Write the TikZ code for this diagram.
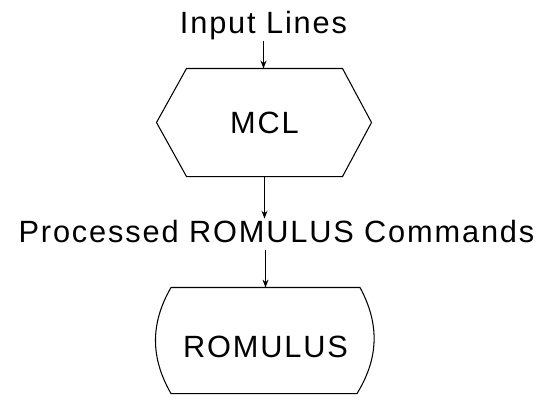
\documentclass[tikz,border=0pt]{standalone}
\usepackage{fontspec}
\setmainfont{Liberation Sans}[LetterSpace=6]
\usetikzlibrary{arrows.meta,calc}
\begin{document}
\begin{tikzpicture}[x=0.02cm, y=-0.02cm, >={Stealth[length=4.5pt,width=3.4pt]}, line width=0.6pt,
  lbl/.style={font=\fontsize{17.5}{20}\selectfont, inner sep=2pt, text height=1.1em, text depth=0.25em, anchor=base},
  box/.style={font=\fontsize{17.5}{20}\selectfont, inner sep=0pt}]
\useasboundingbox (0,0) rectangle (546,397);
\node[lbl] (inp) at (263.5,33) {Input Lines};
\node[box, minimum width=3.1cm, minimum height=2.14cm] (mcl) at (264.5,122.5) {MCL};
\draw (mcl.north west) -- (mcl.north east) -- ([xshift=0.58cm]mcl.east) -- (mcl.south east)
  -- (mcl.south west) -- ([xshift=-0.6cm]mcl.west) -- cycle;
\draw[->] (inp.south) -- (inp.south |- mcl.north);

\node[lbl] (proc) at (276.5,242) {Processed ROMULUS Commands};
\draw[->] (mcl.south) -- (mcl.south |- proc.north);

\node[box, minimum width=3.76cm, minimum height=2.1cm, text height=18.8pt, text depth=0pt] (rom) at (265.5,340.5) {ROMULUS};
\draw (rom.north west) -- (rom.north east) to[bend left=30] ([xshift=-0.06cm]rom.south east)
  -- (rom.south west) to[bend left=30] (rom.north west);
\draw[->] (rom.north |- proc.south) -- (rom.north);
\end{tikzpicture}
\end{document}
